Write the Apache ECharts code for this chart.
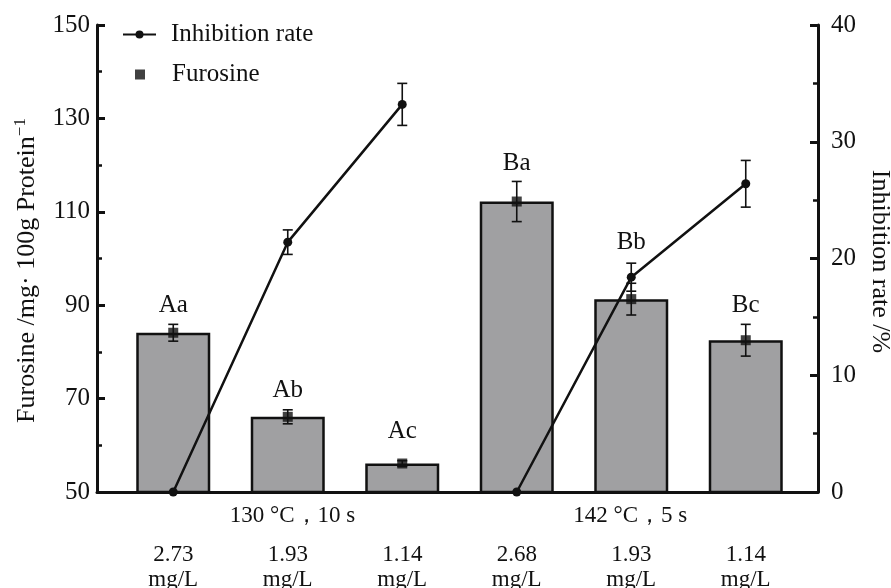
<!DOCTYPE html>
<html><head><meta charset="utf-8">
<script src="https://cdn.jsdelivr.net/npm/echarts@6/dist/echarts.min.js"></script>
<style>html,body{margin:0;padding:0;background:#fff}#c{width:891px;height:588px}</style>
</head><body><div id="c"></div>
<script>
// ---- data ----
const categories = ['Aa','Ab','Ac','Ba','Bb','Bc'];
const concentrations = ['2.73','1.93','1.14','2.68','1.93','1.14'];
const groupIndex = [0,0,0,1,1,1];
const groupNames = ['130 °C，10 s','142 °C，5 s'];
const furosine = [84.1, 66.1, 56.1, 112.2, 91.3, 82.5];
const furosineErr = [1.8, 1.5, 0.6, 4.3, 3.4, 3.4];
const inhibition = [0, 21.4, 33.2, 0, 18.4, 26.4];
const inhibitionErr = [0, 1.05, 1.8, 0, 1.2, 2.0];
const letterAnchor = [90.0, 71.8, 62.9, 120.4, 103.4, 90.0];
const leftTicks = {min:50, max:150, interval:20};
const rightTicks = {min:0, max:40, interval:10};

const FONT = '"Liberation Serif","Times New Roman",serif';
const FS = 25;

function lineData(g){ return inhibition.map((v,i)=> groupIndex[i]===g ? v : '-'); }
function errRender(params, api){
  const x = api.value(0), v = api.value(1), e = api.value(2);
  if(!e) return null;
  const top = api.coord([x, v+e]), bot = api.coord([x, v-e]);
  const c = 5;
  const st = {stroke:'#111', lineWidth:1.6};
  return {type:'group', children:[
    {type:'line', shape:{x1:top[0],y1:top[1],x2:bot[0],y2:bot[1]}, style:st},
    {type:'line', shape:{x1:top[0]-c,y1:top[1],x2:top[0]+c,y2:top[1]}, style:st},
    {type:'line', shape:{x1:bot[0]-c,y1:bot[1],x2:bot[0]+c,y2:bot[1]}, style:st}
  ]};
}

const chart = echarts.init(document.getElementById('c'));
chart.setOption({
  animation:false,
  backgroundColor:'#fff',
  textStyle:{fontFamily:FONT},
  grid:[
    {left:116, right:88, top:25, bottom:96, outerBoundsMode:'none', containLabel:false},
    {left:97, right:73, top:25, bottom:96, outerBoundsMode:'none', containLabel:false}
  ],
  legend:[
    {data:['Inhibition rate'], left:117, top:17, orient:'vertical', itemWidth:33, itemHeight:10,
     textStyle:{fontFamily:FONT, fontSize:FS, color:'#111', padding:[0,0,0,10]}, selectedMode:false},
    {data:['Furosine'], left:130, top:57, orient:'vertical', itemWidth:10, itemHeight:10, icon:'rect',
     textStyle:{fontFamily:FONT, fontSize:FS, color:'#111', padding:[0,0,0,22]}, selectedMode:false}
  ],
  xAxis:[
    {type:'category', gridIndex:0, data:categories,
     axisLine:{show:false}, axisTick:{show:false},
     axisLabel:{margin:50, fontFamily:FONT, fontSize:FS-2, color:'#111', lineHeight:25,
       formatter:(v,i)=>concentrations[i]+'\nmg/L'}},
    {type:'value', gridIndex:1, min:0, max:1, axisLine:{show:true, lineStyle:{color:'#111', width:3}},
     axisTick:{show:false}, axisLabel:{show:false}, splitLine:{show:false}}
  ],
  yAxis:[
    {type:'value', gridIndex:0, position:'left', offset:19, min:leftTicks.min, max:leftTicks.max, interval:leftTicks.interval,
     name:'Furosine /mg· 100g Protein{sup|−1}', nameLocation:'middle', nameGap:55, nameRotate:90,
     nameTextStyle:{fontFamily:FONT, fontSize:26, color:'#111', padding:[0,24,0,0],
       rich:{sup:{fontFamily:FONT, fontSize:17, color:'#111', verticalAlign:'top', padding:[0,0,13,0]}}},
     axisLine:{show:true, lineStyle:{color:'#111', width:3}},
     axisTick:{show:true, inside:true, length:8, lineStyle:{color:'#111', width:3}},
     minorTick:{show:true, splitNumber:2, length:5, lineStyle:{color:'#111', width:2.5}},
     axisLabel:{fontFamily:FONT, fontSize:FS, color:'#111', margin:7},
     splitLine:{show:false}},
    {type:'value', gridIndex:0, position:'right', offset:15, min:rightTicks.min, max:rightTicks.max, interval:rightTicks.interval,
     name:'Inhibition rate /%', nameLocation:'middle', nameGap:48, nameRotate:-90,
     nameTextStyle:{fontFamily:FONT, fontSize:26, color:'#111', padding:[0,0,0,6]},
     axisLine:{show:true, lineStyle:{color:'#111', width:3}},
     axisTick:{show:true, inside:true, length:8, lineStyle:{color:'#111', width:3}},
     minorTick:{show:true, splitNumber:2, length:5, lineStyle:{color:'#111', width:2.5}},
     axisLabel:{fontFamily:FONT, fontSize:FS, color:'#111', margin:13},
     splitLine:{show:false}},
    {type:'value', gridIndex:1, show:false, min:0, max:1}
  ],
  series:[
    {type:'bar', name:'bars', xAxisIndex:0, yAxisIndex:0, data:furosine, barWidth:74,
     itemStyle:{color:'#a0a0a2', borderColor:'#111', borderWidth:2.5}, z:2},
    {type:'custom', name:'furErr', xAxisIndex:0, yAxisIndex:0, renderItem:errRender,
     data:furosine.map((v,i)=>[i,v,furosineErr[i]]), z:4, silent:true},
    {type:'scatter', name:'Furosine', xAxisIndex:0, yAxisIndex:0, data:furosine, symbol:'rect', symbolSize:10,
     itemStyle:{color:'#111'}, z:5},
    {type:'line', name:'Inhibition rate', xAxisIndex:0, yAxisIndex:1, data:lineData(0), symbol:'circle', symbolSize:9,
     lineStyle:{color:'#111', width:2.5}, itemStyle:{color:'#111'}, z:6},
    {type:'line', name:'Inhibition rate', xAxisIndex:0, yAxisIndex:1, data:lineData(1), symbol:'circle', symbolSize:9,
     lineStyle:{color:'#111', width:2.5}, itemStyle:{color:'#111'}, z:6},
    {type:'custom', name:'inhErr', xAxisIndex:0, yAxisIndex:1, renderItem:errRender,
     data:inhibition.map((v,i)=>[i,v,inhibitionErr[i]]), z:6, silent:true},
    {type:'custom', name:'letters', xAxisIndex:0, yAxisIndex:0, clip:false, silent:true, z:7,
     data:categories.map((c,i)=>[i, letterAnchor[i]]),
     renderItem:(p,api)=>{const pt=api.coord([api.value(0),api.value(1)]);
       return {type:'text', x:pt[0], y:pt[1], style:{text:categories[p.dataIndex], fontFamily:FONT, fontSize:FS, fill:'#111', align:'center', verticalAlign:'middle'}};}},
    {type:'custom', name:'groups', xAxisIndex:0, yAxisIndex:0, clip:false, silent:true, z:7,
     data:groupNames.map((g,k)=>[groupIndex.indexOf(k)+1, leftTicks.min]),
     renderItem:(p,api)=>{const pt=api.coord([api.value(0),api.value(1)]);
       return {type:'text', x:pt[0]-58, y:pt[1]+24, style:{text:groupNames[p.dataIndex], fontFamily:FONT, fontSize:FS-2, fill:'#111', align:'left', verticalAlign:'middle'}};}}
  ]
});
</script></body></html>
